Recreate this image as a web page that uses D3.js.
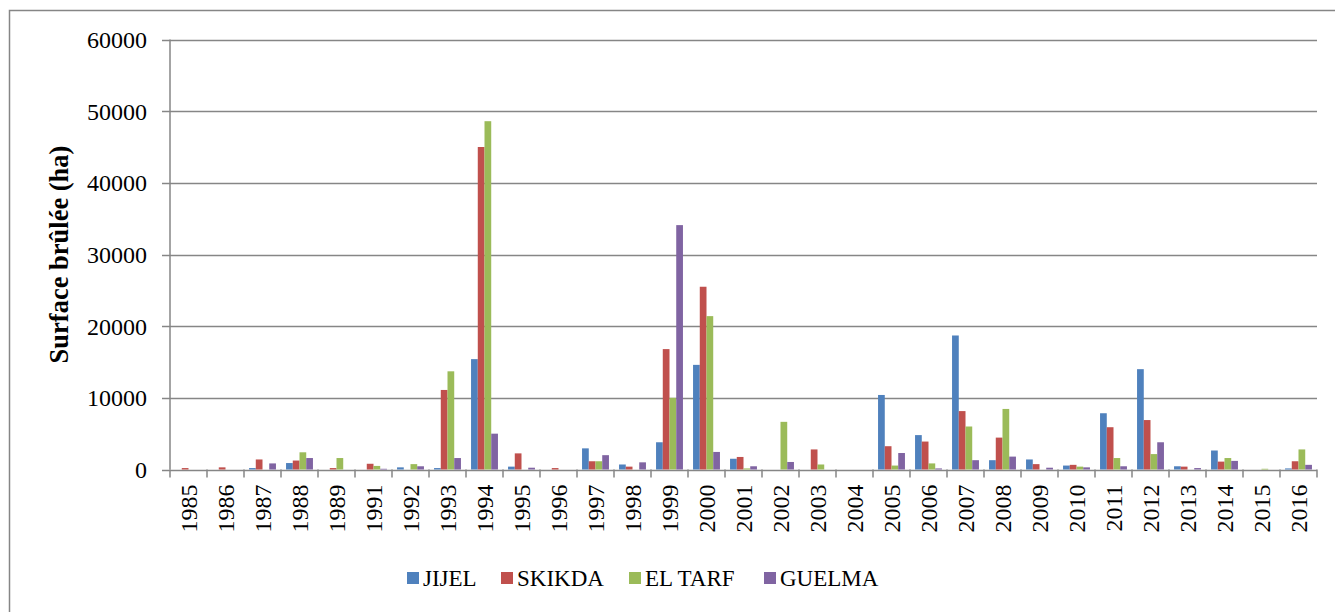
<!DOCTYPE html>
<html>
<head>
    <meta charset="utf-8">
    <title>Surface brûlée</title>
    <script src="https://d3js.org/d3.v7.min.js"></script>
    <style>
        body {
            margin: 0;
            background-color: #fff;
        }
        svg text {
            font-family: "Liberation Serif", "Times New Roman", Times, serif;
            fill: #000;
        }
    </style>
</head>
<body>
    <div id="chart"></div>
    <script>
        // data
        const years = ['1985', '1986', '1987', '1988', '1989', '1991', '1992', '1993', '1994', '1995',
            '1996', '1997', '1998', '1999', '2000', '2001', '2002', '2003', '2004', '2005', '2006',
            '2007', '2008', '2009', '2010', '2011', '2012', '2013', '2014', '2015', '2016'];

        const jijel = [0, 0, 200, 900, 0, 0, 300, 200, 15400, 400,
            0, 2950, 700, 3800, 14600, 1500, 0, 0, 0, 10400, 4800,
            18700, 1300, 1400, 550, 7850, 14000, 450, 2650, 0, 150];
        const skikda = [200, 300, 1400, 1250, 200, 800, 0, 11100, 45000, 2250,
            200, 1150, 400, 16800, 25500, 1750, 0, 2800, 0, 3250, 3900,
            8150, 4450, 750, 650, 5900, 6900, 400, 1100, 0, 1150];
        const elTarf = [0, 0, 0, 2400, 1600, 500, 750, 13700, 48600, 0,
            0, 1150, 0, 10000, 21400, 150, 6650, 700, 0, 550, 850,
            6000, 8450, 0, 400, 1600, 2150, 0, 1600, 100, 2800];
        const guelma = [0, 0, 850, 1600, 0, 100, 450, 1600, 5000, 250,
            0, 2000, 1000, 34100, 2450, 450, 1050, 0, 0, 2300, 150,
            1300, 1800, 250, 300, 450, 3800, 200, 1200, 0, 650];

        const seriesNames = ['JIJEL', 'SKIKDA', 'EL TARF', 'GUELMA'];
        const seriesValues = [jijel, skikda, elTarf, guelma];
        const colors = ['#4F81BD', '#C0504D', '#9BBB59', '#8064A2'];
        const yTicks = [0, 10000, 20000, 30000, 40000, 50000, 60000];

        const width = 1335;
        const height = 612;
        const margin = { top: 39.5, right: 18, bottom: 142.5, left: 170 };

        const svg = d3.select('#chart')
            .append('svg')
            .attr('width', width)
            .attr('height', height);

        // chart border
        svg.append('rect')
            .attr('x', 9.5)
            .attr('y', 10.5)
            .attr('width', 1340)
            .attr('height', 620)
            .attr('fill', 'none')
            .attr('stroke', '#868686')
            .attr('stroke-width', 1.5);

        const x0 = d3.scaleBand()
            .domain(years)
            .range([margin.left, width - margin.right])
            .paddingInner(0)
            .paddingOuter(0);

        // gap width 150% -> 4 bars + 1.5 bar widths per category
        const x1 = d3.scaleBand()
            .domain(seriesNames)
            .range([0, x0.bandwidth()])
            .paddingInner(0)
            .paddingOuter(0.75);

        const y = d3.scaleLinear()
            .domain([0, 60000])
            .range([height - margin.bottom, margin.top]);

        // grid lines
        svg.append('g')
            .selectAll('line')
            .data(yTicks)
            .join('line')
            .attr('x1', margin.left - 8)
            .attr('x2', width - margin.right)
            .attr('y1', d => Math.round(y(d)) + 0.5)
            .attr('y2', d => Math.round(y(d)) + 0.5)
            .attr('stroke', '#868686')
            .attr('stroke-width', 1.5);

        // y labels
        svg.append('g')
            .selectAll('text')
            .data(yTicks)
            .join('text')
            .attr('x', margin.left - 23)
            .attr('y', d => y(d))
            .attr('dy', '0.35em')
            .attr('text-anchor', 'end')
            .style('font-size', '24px')
            .text(d => d);

        // bars
        const groups = svg.append('g')
            .selectAll('g')
            .data(years)
            .join('g')
            .attr('transform', d => `translate(${x0(d)},0)`);

        groups.selectAll('rect')
            .data((d, i) => seriesNames.map((s, k) => ({ s: s, v: seriesValues[k][i], c: colors[k] })))
            .join('rect')
            .attr('x', d => x1(d.s))
            .attr('width', x1.bandwidth())
            .attr('y', d => y(d.v))
            .attr('height', d => y(0) - y(d.v))
            .attr('fill', d => d.c);

        // y axis line
        svg.append('line')
            .attr('x1', margin.left)
            .attr('x2', margin.left)
            .attr('y1', y(60000))
            .attr('y2', y(0))
            .attr('stroke', '#868686')
            .attr('stroke-width', 1.5);

        // x axis ticks
        const xTickPos = years.map(d => x0(d)).concat([width - margin.right]);
        svg.append('g')
            .selectAll('line')
            .data(xTickPos)
            .join('line')
            .attr('x1', d => d)
            .attr('x2', d => d)
            .attr('y1', y(0))
            .attr('y2', y(0) + 8)
            .attr('stroke', '#868686')
            .attr('stroke-width', 1.5);

        // x labels
        svg.append('g')
            .selectAll('text')
            .data(years)
            .join('text')
            .attr('transform', d => `translate(${x0(d) + x0.bandwidth() / 2},${y(0) + 15}) rotate(-90)`)
            .attr('dy', '0.35em')
            .attr('text-anchor', 'end')
            .style('font-size', '24px')
            .text(d => d);

        // y title
        svg.append('text')
            .attr('transform', `translate(68,${(y(0) + y(60000)) / 2}) rotate(-90)`)
            .attr('text-anchor', 'middle')
            .style('font-size', '26.5px')
            .style('font-weight', 'bold')
            .text('Surface brûlée (ha)');

        // legend
        const legendX = [407, 501, 629, 764];
        const legend = svg.append('g');
        seriesNames.forEach((s, k) => {
            legend.append('rect')
                .attr('x', legendX[k])
                .attr('y', 572)
                .attr('width', 12)
                .attr('height', 12)
                .attr('fill', colors[k]);
            legend.append('text')
                .attr('x', legendX[k] + 16)
                .attr('y', 578)
                .attr('dy', '0.35em')
                .style('font-size', '23px')
                .text(s);
        });
    </script>
</body>
</html>
